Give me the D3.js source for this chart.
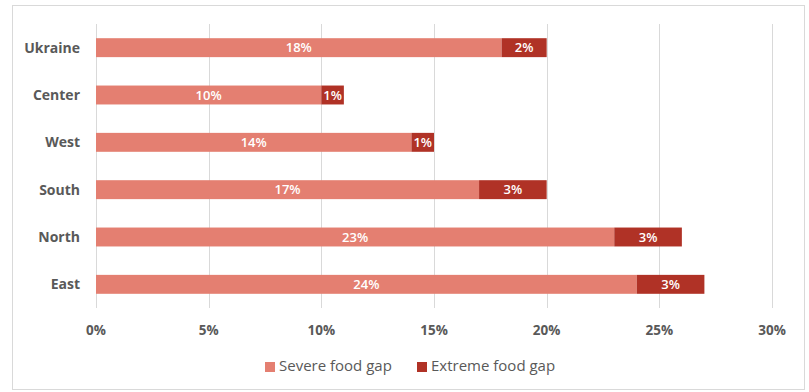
<!DOCTYPE html>
<meta charset="utf-8">
<style>
body { margin: 0; background: #fff; }
svg { font-family: "Open Sans", "Liberation Sans", sans-serif; }
.grid line { stroke: #d9d9d9; stroke-width: 1; }
.cat text { fill: #595959; font-weight: bold; font-size: 14px; }
.xaxis text { fill: #595959; font-weight: bold; font-size: 13.5px; }
.lbl { fill: #fff; font-size: 13px; font-weight: 600; }
.legend text { fill: #595959; font-size: 15px; }
</style>
<svg width="809" height="392"></svg>
<script src="https://d3js.org/d3.v7.min.js"></script>
<script>

var regions = ["Ukraine", "Center", "West", "South", "North", "East"];
var severe = [18, 10, 14, 17, 23, 24];
var extreme = [2, 1, 1, 3, 3, 3];
var ticks = [0, 5, 10, 15, 20, 25, 30];
var seriesNames = ["Severe food gap", "Extreme food gap"];
var colors = ["#e47f71", "#b03226"];

var svg = d3.select("svg");

svg.append("rect")
  .attr("x", 12.5).attr("y", 5.5)
  .attr("width", 792).attr("height", 384)
  .attr("fill", "#fff").attr("stroke", "#d9d9d9");

var x = d3.scaleLinear().domain([0, 30]).range([96, 772]);
var y = d3.scaleBand().domain(regions).range([24, 308]).paddingInner(0.6).paddingOuter(0.3);

// gridlines
svg.append("g").attr("class", "grid")
  .selectAll("line").data(ticks).enter().append("line")
  .attr("x1", function(d) { return Math.round(x(d)) + 0.5; })
  .attr("x2", function(d) { return Math.round(x(d)) + 0.5; })
  .attr("y1", 24).attr("y2", 308);

var rows = regions.map(function(r, i) {
  return { region: r, severe: severe[i], extreme: extreme[i] };
});

var g = svg.append("g");

// severe bars
g.selectAll(".sev").data(rows).enter().append("rect")
  .attr("x", x(0))
  .attr("y", function(d) { return y(d.region); })
  .attr("width", function(d) { return x(d.severe) - x(0); })
  .attr("height", y.bandwidth())
  .attr("fill", colors[0]);

// extreme bars
g.selectAll(".ext").data(rows).enter().append("rect")
  .attr("x", function(d) { return x(d.severe); })
  .attr("y", function(d) { return y(d.region); })
  .attr("width", function(d) { return x(d.severe + d.extreme) - x(d.severe); })
  .attr("height", y.bandwidth())
  .attr("fill", colors[1]);

g.selectAll(".sevl").data(rows).enter().append("text")
  .attr("class", "lbl")
  .attr("x", function(d) { return x(d.severe / 2); })
  .attr("y", function(d) { return y(d.region) + y.bandwidth() / 2; })
  .attr("dy", "0.35em").attr("text-anchor", "middle")
  .text(function(d) { return d.severe + "%"; });

g.selectAll(".extl").data(rows).enter().append("text")
  .attr("class", "lbl")
  .attr("x", function(d) { return x(d.severe + d.extreme / 2); })
  .attr("y", function(d) { return y(d.region) + y.bandwidth() / 2; })
  .attr("dy", "0.35em").attr("text-anchor", "middle")
  .attr("font-size", function(d) { return d.extreme < 2 ? "12px" : "13px"; })
  .text(function(d) { return d.extreme + "%"; });

// category axis
svg.append("g").attr("class", "cat")
  .selectAll("text").data(regions).enter().append("text")
  .attr("x", 80)
  .attr("y", function(d) { return y(d) + y.bandwidth() / 2; })
  .attr("dy", "0.35em").attr("text-anchor", "end")
  .text(function(d) { return d; });

// x axis labels
svg.append("g").attr("class", "xaxis")
  .selectAll("text").data(ticks).enter().append("text")
  .attr("x", function(d) { return x(d); })
  .attr("y", 330).attr("dy", "0.35em").attr("text-anchor", "middle")
  .text(function(d) { return d + "%"; });

// legend
var leg = svg.append("g").attr("class", "legend");
var legX = [265, 417];
seriesNames.forEach(function(n, i) {
  leg.append("rect").attr("x", legX[i]).attr("y", 362)
    .attr("width", 10).attr("height", 10).attr("fill", colors[i]);
  leg.append("text").attr("x", legX[i] + 14).attr("y", 366)
    .attr("dy", "0.35em").text(n);
});

</script>
